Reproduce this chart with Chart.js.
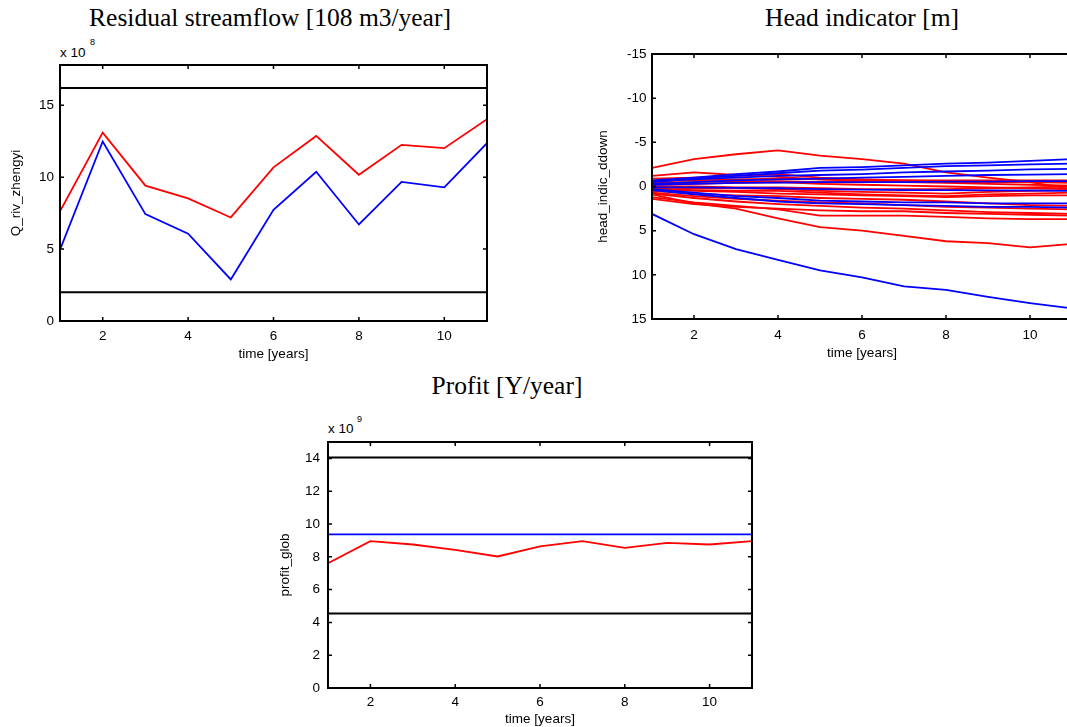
<!DOCTYPE html>
<html>
<head>
<meta charset="utf-8">
<script src="https://cdn.jsdelivr.net/npm/chart.js@4.4.1/dist/chart.umd.min.js"></script>
<style>
  html, body { margin:0; padding:0; background:#fff; overflow:hidden; width:1067px; height:727px; position:relative; }
  .box { position:absolute; }
  .title { position:absolute; font-family:'Liberation Serif','Times New Roman',serif; font-size:25.5px; line-height:25.5px; white-space:nowrap; color:#000; transform:translateX(-50%); }
  .exp { position:absolute; font-family:'Liberation Sans',Arial,sans-serif; font-size:13.5px; line-height:13.5px; white-space:nowrap; color:#000; }
  .sup { position:absolute; font-family:'Liberation Sans',Arial,sans-serif; font-size:9px; line-height:9px; white-space:nowrap; color:#000; }
</style>
</head>
<body>
<div class="title" style="left:270px; top:5px;">Residual streamflow [108 m3/year]</div>
<div class="title" style="left:862px; top:5px;">Head indicator [m]</div>
<div class="title" style="left:507px; top:373px;">Profit [Y/year]</div>

<div class="exp" style="left:60px; top:45.5px;">x 10</div>
<div class="sup" style="left:90px; top:38px;">8</div>
<div class="exp" style="left:328px; top:421.5px;">x 10</div>
<div class="sup" style="left:357px; top:414.5px;">9</div>

<div class="box" style="left:0px; top:0px;"><canvas id="c1" width="500" height="370"></canvas></div>
<div class="box" style="left:580px; top:0px;"><canvas id="c2" width="500" height="370"></canvas></div>
<div class="box" style="left:270px; top:370px;"><canvas id="c3" width="500" height="357"></canvas></div>

<script>
// ---------- DATA ----------
const years = [1, 2, 3, 4, 5, 6, 7, 8, 9, 10, 11];
const xTickValues = [2, 4, 6, 8, 10];

// Residual streamflow, units of 10^8 m3/year
const qRed  = [7.63, 13.10, 9.41, 8.53, 7.20, 10.68, 12.87, 10.17, 12.25, 12.02, 14.03];
const qBlue = [4.96, 12.48, 7.43, 6.07, 2.89, 7.73, 10.38, 6.71, 9.67, 9.29, 12.37];
const qUpper = [16.2, 16.2, 16.2, 16.2, 16.2, 16.2, 16.2, 16.2, 16.2, 16.2, 16.2];
const qLower = [2.0, 2.0, 2.0, 2.0, 2.0, 2.0, 2.0, 2.0, 2.0, 2.0, 2.0];
const qYTicks = [0, 5, 10, 15];

// Head indicator [m] (drawdown, axis reversed)
const headBlue = [
  [-0.7, -1.0, -1.4, -1.7, -2.1, -2.2, -2.4, -2.6, -2.7, -2.9, -3.1],
  [-0.5, -0.9, -1.2, -1.5, -1.8, -1.9, -2.1, -2.3, -2.4, -2.5, -2.6],
  [-0.6, -0.8, -1.0, -1.2, -1.3, -1.4, -1.6, -1.7, -1.8, -1.95, -2.0],
  [-0.3, -0.5, -0.7, -0.8, -0.9, -1.0, -1.1, -1.2, -1.3, -1.35, -1.4],
  [-0.2, -0.3, -0.4, -0.45, -0.5, -0.5, -0.5, -0.55, -0.55, -0.6, -0.6],
  [0.1, 0.1, 0.15, 0.2, 0.3, 0.35, 0.4, 0.4, 0.45, 0.45, 0.5],
  [0.3, 0.7, 1.1, 1.3, 1.6, 1.7, 1.8, 1.8, 1.9, 1.9, 1.9],
  [0.4, 0.9, 1.3, 1.7, 1.9, 2.0, 2.1, 2.2, 2.3, 2.3, 2.4],
  [3.1, 5.4, 7.1, 8.3, 9.5, 10.3, 11.3, 11.7, 12.5, 13.2, 13.8]
];
const headRed = [
  [-2.1, -3.1, -3.65, -4.1, -3.5, -3.1, -2.6, -1.6, -1.0, -0.5, 0.3],
  [-1.2, -1.6, -1.3, -1.1, -0.8, -0.6, -0.5, -0.4, -0.3, -0.2, -0.1],
  [-0.9, -1.0, -1.2, -1.4, -1.0, -0.8, -0.7, -0.6, -0.5, -0.5, -0.4],
  [-0.6, -0.7, -0.8, -0.9, -0.8, -0.7, -0.7, -0.7, -0.7, -0.7, -0.7],
  [-0.4, -0.5, -0.6, -0.6, -0.5, -0.5, -0.5, -0.5, -0.5, -0.5, -0.5],
  [-0.2, -0.3, -0.4, -0.5, -0.3, -0.2, -0.1, 0.0, 0.1, 0.2, 0.3],
  [0.0, 0.0, 0.1, 0.1, 0.2, 0.3, 0.3, 0.3, 0.2, 0.1, 0.0],
  [0.1, 0.2, 0.2, 0.3, 0.5, 0.6, 0.7, 0.8, 0.6, 0.5, 0.4],
  [0.2, 0.4, 0.5, 0.5, 0.7, 0.9, 1.0, 1.1, 0.9, 0.8, 0.7],
  [0.3, 0.5, 0.6, 0.8, 0.9, 1.0, 1.1, 1.2, 1.1, 1.0, 1.0],
  [0.5, 0.8, 1.0, 1.1, 1.3, 1.4, 1.5, 1.7, 1.9, 2.1, 2.2],
  [0.7, 1.1, 1.4, 1.6, 1.8, 1.9, 2.1, 2.3, 2.4, 2.5, 2.6],
  [0.8, 1.3, 1.7, 2.0, 2.2, 2.4, 2.5, 2.7, 2.9, 3.0, 3.1],
  [1.4, 2.0, 2.3, 2.5, 2.7, 2.8, 2.8, 3.0, 3.1, 3.2, 3.3],
  [1.2, 1.8, 2.2, 2.6, 3.3, 3.3, 3.3, 3.45, 3.6, 3.7, 3.7],
  [0.9, 1.9, 2.5, 3.6, 4.6, 5.0, 5.6, 6.2, 6.4, 6.9, 6.5]
];
const headYTicks = [-15, -10, -5, 0, 5, 10, 15];

// Profit, units of 10^9 Y/year
const profitRed  = [7.61, 8.95, 8.75, 8.42, 8.02, 8.64, 8.95, 8.55, 8.85, 8.75, 8.95];
const profitBlue = [9.37, 9.37, 9.37, 9.37, 9.37, 9.37, 9.37, 9.37, 9.37, 9.37, 9.37];
const profitUpper = [14.05, 14.05, 14.05, 14.05, 14.05, 14.05, 14.05, 14.05, 14.05, 14.05, 14.05];
const profitLower = [4.55, 4.55, 4.55, 4.55, 4.55, 4.55, 4.55, 4.55, 4.55, 4.55, 4.55];
const profitYTicks = [0, 2, 4, 6, 8, 10, 12, 14];

// ---------- RENDERING ----------
const FONT = "'Liberation Sans', Arial, sans-serif";
const RED = '#ff0000', BLUE = '#0000ff', BLACK = '#000000';

const framePlugin = {
  id: 'frame',
  afterDatasetsDraw(chart) {
    const { ctx, chartArea: a, scales } = chart;
    const L = 4;
    ctx.save();
    ctx.strokeStyle = BLACK;
    ctx.lineWidth = 1.5;
    ctx.beginPath();
    scales.x.ticks.forEach(t => {
      const px = scales.x.getPixelForValue(t.value);
      ctx.moveTo(px, a.bottom); ctx.lineTo(px, a.bottom - L);
      ctx.moveTo(px, a.top); ctx.lineTo(px, a.top + L);
    });
    scales.y.ticks.forEach(t => {
      const py = scales.y.getPixelForValue(t.value);
      ctx.moveTo(a.left, py); ctx.lineTo(a.left + L, py);
      ctx.moveTo(a.right, py); ctx.lineTo(a.right - L, py);
    });
    ctx.stroke();
    ctx.lineWidth = 2;
    ctx.strokeRect(a.left, a.top, a.right - a.left, a.bottom - a.top);
    ctx.restore();
  }
};

function series(values, color, width) {
  return {
    data: values.map((v, i) => ({ x: years[i], y: v })),
    borderColor: color,
    backgroundColor: color,
    borderWidth: width || 1.8,
    pointRadius: 0,
    tension: 0,
    fill: false
  };
}

function makeChart(id, cfg) {
  return new Chart(document.getElementById(id), {
    type: 'line',
    data: { datasets: cfg.datasets },
    plugins: [framePlugin],
    options: {
      responsive: false,
      animation: false,
      devicePixelRatio: 1,
      events: [],
      layout: { padding: cfg.padding },
      plugins: { legend: { display: false }, tooltip: { enabled: false }, title: { display: false } },
      scales: {
        x: {
          type: 'linear', min: 1, max: 11,
          grid: { display: false, drawTicks: false },
          border: { display: false },
          afterBuildTicks: s => { s.ticks = xTickValues.map(v => ({ value: v })); },
          afterFit: s => { s.height = cfg.xHeight; },
          ticks: { color: BLACK, font: { family: FONT, size: 13.5 }, padding: cfg.xTickPad, maxRotation: 0, callback: v => String(v) },
          title: { display: true, text: 'time [years]', color: BLACK, font: { family: FONT, size: 13.5 }, padding: { top: 0, bottom: cfg.xTitlePad } }
        },
        y: {
          type: 'linear', min: cfg.yMin, max: cfg.yMax, reverse: !!cfg.reverse,
          grid: { display: false, drawTicks: false },
          border: { display: false },
          afterBuildTicks: s => { s.ticks = cfg.yTicks.map(v => ({ value: v })); },
          afterFit: s => { s.width = cfg.yWidth; },
          ticks: { color: BLACK, font: { family: FONT, size: 13.5 }, padding: cfg.yTickPad, callback: v => String(v) },
          title: { display: true, text: cfg.yTitle, color: BLACK, font: { family: FONT, size: 13.5 }, padding: { top: cfg.yTitlePad, bottom: 0 } }
        }
      }
    }
  });
}

makeChart('c1', {
  datasets: [
    series(qUpper, BLACK, 2),
    series(qLower, BLACK, 2),
    series(qBlue, BLUE),
    series(qRed, RED)
  ],
  padding: { left: 0, top: 65, right: 13, bottom: 0 },
  xHeight: 49, yWidth: 60,
  xTickPad: 7, yTickPad: 6, xTitlePad: 8, yTitlePad: 8.6,
  yMin: 0, yMax: 17.8, yTicks: qYTicks, yTitle: 'Q_riv_zhengyi'
});

const headSets = [];
headBlue.forEach(v => headSets.push(series(v, BLUE)));
headRed.forEach(v => headSets.push(series(v, RED)));
makeChart('c2', {
  datasets: headSets,
  padding: { left: 0, top: 54, right: 8, bottom: 0 },
  xHeight: 51, yWidth: 72,
  xTickPad: 8, yTickPad: 5.5, xTitlePad: 8.6, yTitlePad: 14.9,
  yMin: -15, yMax: 15, reverse: true, yTicks: headYTicks, yTitle: 'head_indic_ddown'
});

makeChart('c3', {
  datasets: [
    series(profitUpper, BLACK, 2),
    series(profitLower, BLACK, 2),
    series(profitBlue, BLUE),
    series(profitRed, RED)
  ],
  padding: { left: 0, top: 72, right: 18, bottom: 0 },
  xHeight: 39, yWidth: 58,
  xTickPad: 6, yTickPad: 8, xTitlePad: 0, yTitlePad: 6.9,
  yMin: 0, yMax: 15, yTicks: profitYTicks, yTitle: 'profit_glob'
});
</script>
</body>
</html>
